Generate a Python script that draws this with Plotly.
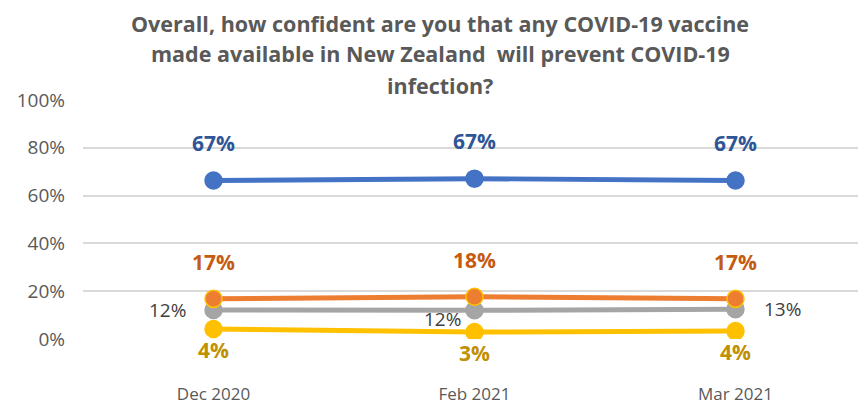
import plotly.graph_objects as go

months = ["Dec 2020", "Feb 2021", "Mar 2021"]

very_fairly = [66.3, 67.1, 66.3]
not_very = [16.8, 17.7, 16.8]
dont_know = [12.1, 12.0, 12.5]
not_at_all = [4.2, 2.9, 3.3]

very_fairly_labels = ["67%", "67%", "67%"]
not_very_labels = ["17%", "18%", "17%"]
dont_know_labels = ["12%", "12%", "13%"]
not_at_all_labels = ["4%", "3%", "4%"]

y_ticks = [0, 20, 40, 60, 80, 100]
y_tick_text = ["0%", "20%", "40%", "60%", "80%", "100%"]

title_lines = [
    "Overall, how confident are you that any COVID-19 vaccine",
    "made available in New Zealand  will prevent COVID-19",
    "infection?",
]

FONT = "Open Sans"

series = [
    # values, labels, line colour, label colour, bold, marker outline
    (dont_know, dont_know_labels, "#A5A5A5", "#404040", False, "#A5A5A5"),
    (not_at_all, not_at_all_labels, "#FFC000", "#BF9000", True, "#FFC000"),
    (not_very, not_very_labels, "#ED7D31", "#C55A11", True, "#FFC000"),
    (very_fairly, very_fairly_labels, "#4472C4", "#2F5597", True, "#4472C4"),
]

fig = go.Figure()
for vals, labels, color, label_color, bold, outline in series:
    fig.add_trace(
        go.Scatter(
            x=months,
            y=vals,
            mode="lines+markers",
            line=dict(color=color, width=5),
            marker=dict(size=17, color=color, line=dict(color=outline, width=1.5)),
            showlegend=False,
            hoverinfo="skip",
        )
    )

# label placement per point: (xshift, yshift, xanchor)
offsets = {
    id(very_fairly): [(0, 38, "center")] * 3,
    id(not_very): [(0, 37, "center")] * 3,
    id(not_at_all): [(0, -21, "center")] * 3,
    id(dont_know): [(-26, 0, "right"), (-12, -9, "right"), (26, 0, "left")],
}

annotations = []
for vals, labels, color, label_color, bold, outline in series:
    for i, m in enumerate(months):
        dx, dy, anchor = offsets[id(vals)][i]
        annotations.append(
            dict(
                x=m,
                y=vals[i],
                xref="x",
                yref="y",
                text=f"<b>{labels[i]}</b>" if bold else labels[i],
                showarrow=False,
                xanchor=anchor,
                yanchor="middle",
                xshift=dx,
                yshift=dy,
                font=dict(family=FONT, size=21 if bold else 19, color=label_color),
            )
        )

# title lines, placed one by one to get Excel's looser line spacing
for line, ypos in zip(title_lines, [1.322, 1.196, 1.059]):
    annotations.append(
        dict(
            x=0.456,
            y=ypos,
            xref="paper",
            yref="paper",
            text=f"<b>{line}</b>",
            showarrow=False,
            xanchor="center",
            yanchor="middle",
            font=dict(family=FONT, size=21.5, color="#595959"),
        )
    )

# page body has an 8px margin, so the figure is 8px smaller each way
fig.update_layout(
    width=858,
    height=399,
    paper_bgcolor="white",
    plot_bgcolor="white",
    margin=dict(l=75, r=0, t=92, b=68),
    font=dict(family=FONT, color="#595959"),
    annotations=annotations,
    xaxis=dict(
        range=[-0.5, 2.5],
        showgrid=False,
        showline=False,
        zeroline=False,
        ticks="",
        automargin=False,
        ticklabelstandoff=43,
        tickfont=dict(family=FONT, size=17, color="#595959"),
    ),
    yaxis=dict(
        range=[0, 100],
        tickvals=y_ticks,
        ticktext=y_tick_text,
        showgrid=True,
        gridcolor="#D9D9D9",
        gridwidth=1.5,
        zeroline=False,
        showline=False,
        automargin=False,
        ticklabelstandoff=17,
        tickfont=dict(family=FONT, size=19, color="#595959"),
    ),
)

fig.write_html("out.html")
